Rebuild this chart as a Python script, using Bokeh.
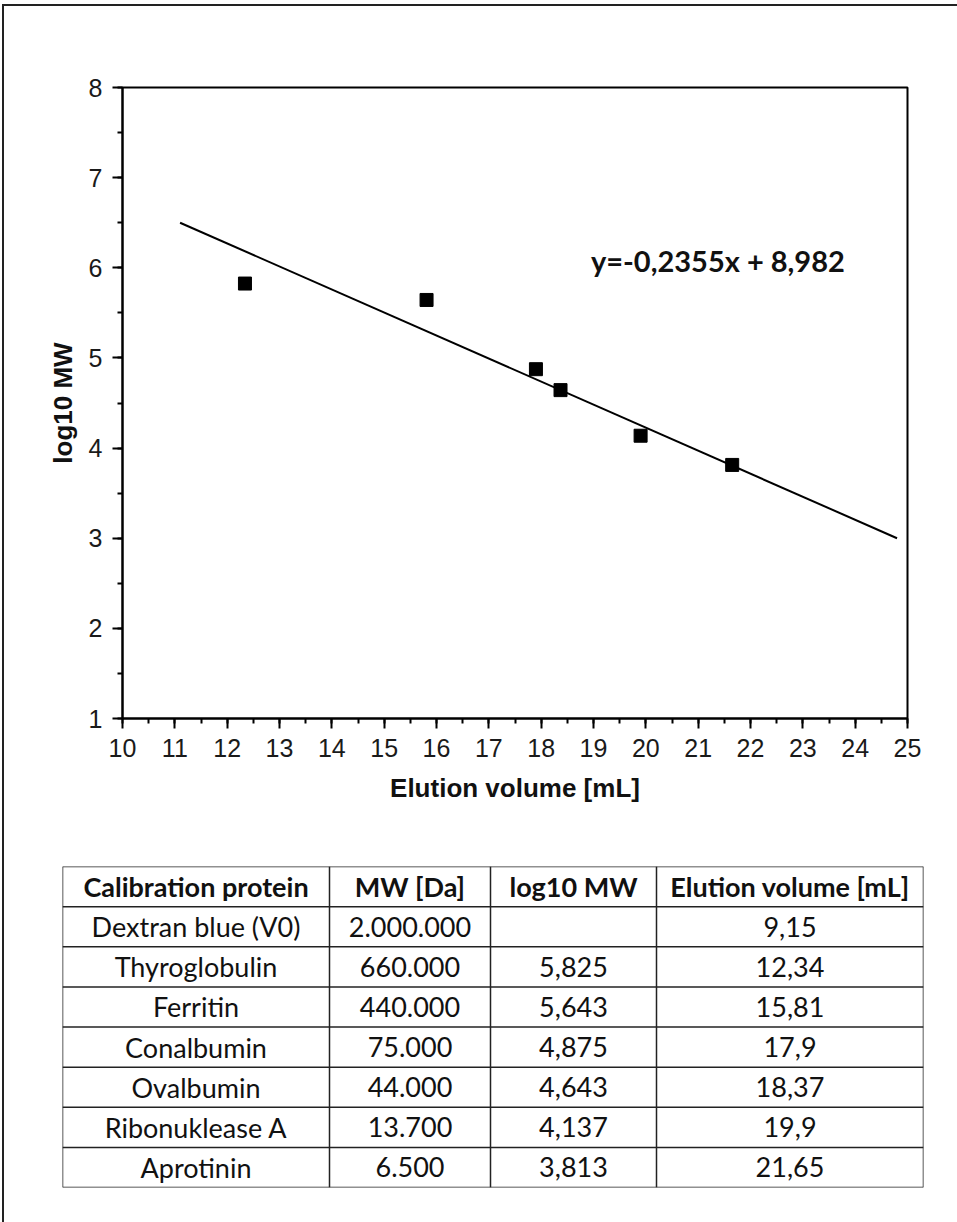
from bokeh.plotting import figure
from bokeh.models import Range1d, Label, SingleIntervalTicker, ColumnDataSource
from bokeh.layouts import column
from bokeh.core.properties import value
from bokeh.embed import file_html
from bokeh.resources import INLINE

# ---------------- data ----------------
elution_vol = [12.34, 15.81, 17.9, 18.37, 19.9, 21.65]
log_mw = [5.825, 5.643, 4.875, 4.643, 4.137, 3.813]
fit_x = [11.1, 24.8]
fit_y = [6.5, 3.0]
equation = "y=-0,2355x + 8,982"

table_header = ["Calibration protein", "MW [Da]", "log10 MW", "Elution volume [mL]"]
proteins = ["Dextran blue (V0)", "Thyroglobulin", "Ferritin", "Conalbumin",
            "Ovalbumin", "Ribonuklease A", "Aprotinin"]
mw_da = ["2.000.000", "660.000", "440.000", "75.000", "44.000", "13.700", "6.500"]
log_mw_txt = ["", "5,825", "5,643", "4,875", "4,643", "4,137", "3,813"]
elution_txt = ["9,15", "12,34", "15,81", "17,9", "18,37", "19,9", "21,65"]

# ---------------- chart ----------------
OX, OY = 4, 6  # page position of the content origin (after margin + border)
W = 957 - OX
AX_FONT = "Liberation Sans"
p = figure(width=W, height=840 - OY, x_range=Range1d(10, 25), y_range=Range1d(1, 8),
           output_backend="svg", toolbar_location=None,
           min_border_left=122 - OX, min_border_top=87 - OY,
           min_border_right=W - (122 - OX) - 785, min_border_bottom=122)
p.background_fill_color = "white"
p.border_fill_color = "white"
p.outline_line_color = "black"
p.outline_line_width = 2
p.grid.visible = False

p.xaxis.ticker = SingleIntervalTicker(interval=1, num_minor_ticks=2)
p.yaxis.ticker = SingleIntervalTicker(interval=1, num_minor_ticks=2)
for ax in (p.xaxis, p.yaxis):
    ax.axis_line_width = 2
    ax.axis_line_color = "black"
    ax.major_tick_line_width = 2
    ax.minor_tick_line_width = 2
    ax.major_tick_in = 0
    ax.major_tick_out = 10
    ax.minor_tick_in = 0
    ax.minor_tick_out = 5
    ax.major_label_text_font = AX_FONT
    ax.major_label_text_font_size = "25px"
    ax.major_label_text_color = "#1a1a1a"
    ax.axis_label_text_font = AX_FONT
    ax.axis_label_text_font_style = "bold"
    ax.axis_label_text_font_size = "26px"
    ax.axis_label_text_color = "#111111"

p.xaxis.axis_label = "Elution volume [mL]"
p.yaxis.axis_label = "log10 MW"
p.xaxis.major_label_standoff = 10
p.yaxis.major_label_standoff = 10
p.xaxis.axis_label_standoff = 13
p.yaxis.axis_label_standoff = 8

p.line(fit_x, fit_y, line_color="black", line_width=2)
p.scatter(elution_vol, log_mw, marker="square", size=13, color="black")

p.add_layout(Label(x=18.95, y=6.08, text=equation, text_font="Lato",
                   text_font_style="bold", text_font_size="29px",
                   text_baseline="middle", text_color="#111111"))

# ---------------- table ----------------
col_edges = [0, 267, 428, 594, 861]
n_rows = len(proteins) + 1

t = figure(width=W, height=1222 - 840, x_range=Range1d(0, 861), y_range=Range1d(n_rows, 0),
           output_backend="svg", toolbar_location=None,
           x_axis_location=None, y_axis_location=None,
           min_border_left=62 - OX, min_border_top=26, min_border_right=W - (62 - OX) - 861,
           min_border_bottom=1222 - 840 - 26 - 321)
t.outline_line_color = None
t.grid.visible = False
t.background_fill_color = "white"
t.border_fill_color = "white"

for fig in (p, t):
    try:
        fig.frame_align = False
    except Exception:
        pass

# grid lines of the table
hx0 = [col_edges[0]] * (n_rows + 1)
hx1 = [col_edges[-1]] * (n_rows + 1)
hy = list(range(n_rows + 1))
t.segment(x0=hx0, y0=hy, x1=hx1, y1=hy, line_color="#222222", line_width=1.5)
vy0 = [0] * len(col_edges)
vy1 = [n_rows] * len(col_edges)
t.segment(x0=col_edges, y0=vy0, x1=col_edges, y1=vy1, line_color="#222222", line_width=1.5)

centers = [(col_edges[i] + col_edges[i + 1]) / 2 for i in range(4)]

# header
t.text(x=centers, y=[0.5] * 4, text=table_header, text_font=value("Lato"),
       text_font_style="bold", text_font_size="27px", text_align="center",
       text_baseline="middle", text_color="#111111")

# body
body_x, body_y, body_t = [], [], []
for r in range(len(proteins)):
    row = [proteins[r], mw_da[r], log_mw_txt[r], elution_txt[r]]
    for c in range(4):
        body_x.append(centers[c])
        body_y.append(r + 1.5)
        body_t.append(row[c])
src = ColumnDataSource(dict(x=body_x, y=body_y, text=body_t))
t.text(x="x", y="y", text="text", source=src, text_font=value("Lato"),
       text_font_size="27px", text_align="center", text_baseline="middle",
       text_color="#111111")

layout = column(p, t, spacing=0,
                styles={"border-left": "2px solid #222", "border-top": "2px solid #222",
                        "margin-left": "2px", "margin-top": "4px"})

with open("out.html", "w") as f:
    f.write(file_html(layout, INLINE))
